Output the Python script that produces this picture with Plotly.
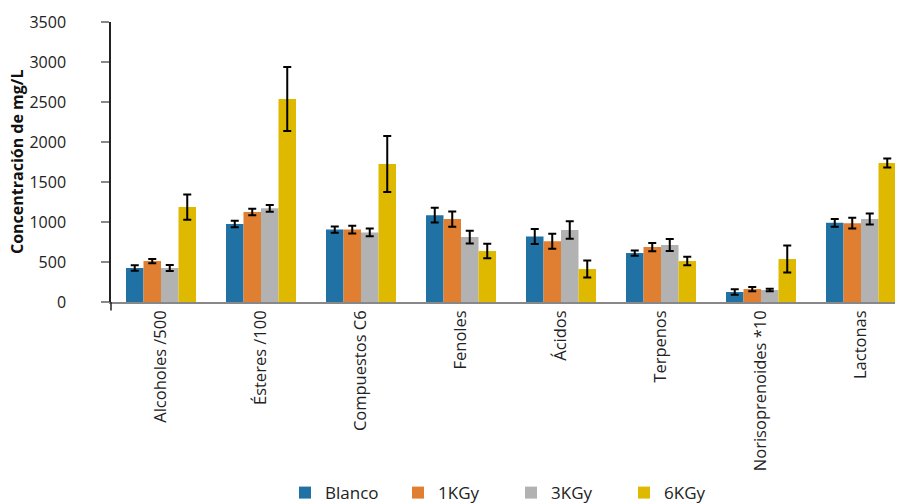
import plotly.graph_objects as go

categories = ["Alcoholes /500", "Ésteres /100", "Compuestos C6", "Fenoles",
              "Ácidos", "Terpenos", "Norisoprenoides *10", "Lactonas"]
series_names = ["Blanco", "1KGy", "3KGy", "6KGy"]

blanco = [425, 975, 905, 1085, 820, 612, 125, 990]
blanco_err = [35, 40, 40, 92, 94, 33, 33, 48]
kgy1 = [512, 1125, 905, 1037, 760, 687, 162, 985]
kgy1_err = [27, 40, 48, 95, 94, 52, 27, 67]
kgy3 = [425, 1171, 870, 812, 900, 712, 150, 1037]
kgy3_err = [37, 42, 48, 80, 108, 75, 15, 69]
kgy6 = [1187, 2537, 1725, 637, 412, 512, 537, 1737]
kgy6_err = [158, 400, 350, 90, 106, 54, 169, 56]

colors = ["#1F72A3", "#E07E32", "#B2B2B2", "#DEB900"]
values = [blanco, kgy1, kgy3, kgy6]
errors = [blanco_err, kgy1_err, kgy3_err, kgy6_err]

fig = go.Figure()
for name, vals, errs, col in zip(series_names, values, errors, colors):
    fig.add_trace(go.Bar(
        name=name, x=categories, y=vals, marker_color=col, marker_line_width=0,
        error_y=dict(type="data", array=errs, visible=True, color="black",
                     thickness=2, width=4),
    ))

fig.update_layout(
    width=903, height=503,
    margin=dict(l=103, r=0, t=14, b=209, autoexpand=False),
    barmode="group", bargap=0.3, bargroupgap=0,
    plot_bgcolor="white", paper_bgcolor="white",
    font=dict(family="Open Sans", size=16, color="#222"),
    legend=dict(orientation="h", x=0.5, xanchor="center", y=-0.618, yanchor="top",
                font=dict(size=17, color="#222"), itemwidth=30,
                entrywidth=68, tracegroupgap=0),
    showlegend=True,
)
fig.update_xaxes(
    range=[-0.5, 7.5], showline=True, linecolor="#888888", linewidth=1.5,
    tickangle=-90, tickfont=dict(size=16.5, color="#222"), ticks="",
    showgrid=False, automargin=False,
)
fig.update_yaxes(
    range=[0, 3500], dtick=500, showline=True, linecolor="#222222", linewidth=1.5,
    ticks="outside", ticklen=8, tickcolor="#888888", tickwidth=1.5,
    tickfont=dict(size=16, color="#222"), ticklabelstandoff=32,
    showgrid=False, zeroline=False, automargin=False,
)
fig.add_annotation(
    text="<b>Concentración de mg/L</b>", xref="paper", yref="paper",
    x=(9 - 103) / 800, y=0.5, xanchor="center", yanchor="middle",
    textangle=-90, showarrow=False, font=dict(size=16, color="#111"),
)
fig.add_shape(type="line", xref="paper", yref="paper", x0=0, x1=0, y0=0, y1=-0.03,
              line=dict(color="#222222", width=1.5))

fig.write_html("out.html")
